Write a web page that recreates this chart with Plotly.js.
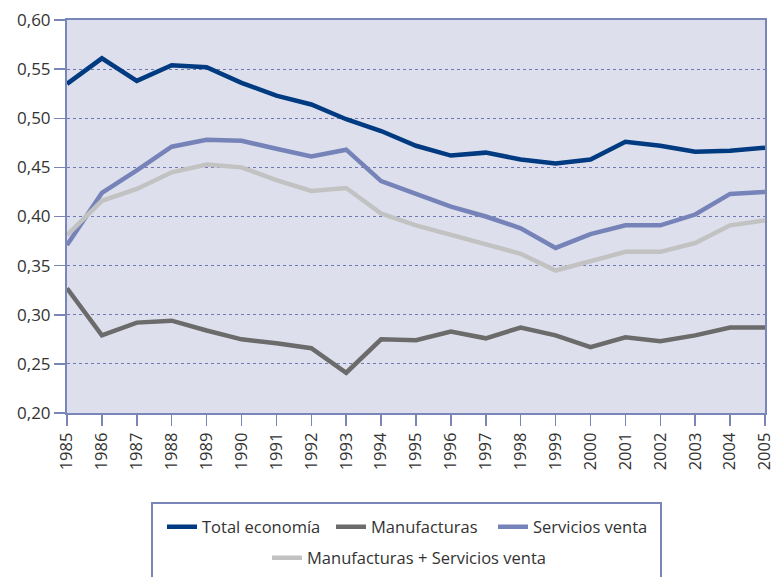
<!DOCTYPE html>
<html>
<head>
<meta charset="utf-8">
<script src="https://cdn.plot.ly/plotly-3.0.1.min.js"></script>
<style>html,body{margin:0;padding:0;background:#fff}#chart{width:774px;height:577px}</style>
</head>
<body>
<div id="chart"></div>
<script>
const years = [1985,1986,1987,1988,1989,1990,1991,1992,1993,1994,1995,1996,1997,1998,1999,2000,2001,2002,2003,2004,2005];
const totalEconomia = [0.535,0.561,0.538,0.554,0.552,0.536,0.523,0.514,0.499,0.487,0.472,0.462,0.465,0.458,0.454,0.458,0.476,0.472,0.466,0.467,0.470];
const manufacturas = [0.327,0.279,0.292,0.294,0.284,0.275,0.271,0.266,0.241,0.275,0.274,0.283,0.276,0.287,0.279,0.267,0.277,0.273,0.279,0.287,0.287];
const serviciosVenta = [0.371,0.424,0.447,0.471,0.478,0.477,0.469,0.461,0.468,0.436,0.423,0.410,0.400,0.388,0.368,0.382,0.391,0.391,0.402,0.423,0.425];
const manufServicios = [0.381,0.416,0.428,0.445,0.453,0.450,0.437,0.426,0.429,0.403,0.391,0.381,0.372,0.362,0.345,0.355,0.364,0.364,0.373,0.391,0.396];
const seriesNames = ["Total economía","Manufacturas","Servicios venta","Manufacturas + Servicios venta"];
const yTicks = [0.20,0.25,0.30,0.35,0.40,0.45,0.50,0.55,0.60];

const colors = ["#003a80","#6b6b6b","#7683b9","#c2c2c2"];
const legendIds = ['legend','legend2','legend3','legend4'];
const dataSets = [totalEconomia, manufacturas, serviciosVenta, manufServicios];
const traces = dataSets.map((d,i)=>({
  x: years, y: d, type:'scatter', mode:'lines', name: seriesNames[i],
  line:{color:colors[i], width:4.5},
  legend: legendIds[i]
}));

const L=67, R=765, T=20, B=413, W=774, H=577;
const pw=R-L, ph=B-T;
const px2x = p => (p-L)/pw;
const py2y = p => (B-p)/ph;

// legend placement (pixel left edge, pixel vertical centre)
const legPos = [[162,527],[331,527],[493,527],[267,558]];
function mkLegend(p){
  return {
    orientation:'h', x:px2x(p[0]), xanchor:'left', y:py2y(p[1]), yanchor:'middle',
    font:{size:16.5, color:'#333333'}, bgcolor:'rgba(0,0,0,0)', borderwidth:0,
    itemwidth:30
  };
}

const layout = {
  width: W, height: H,
  margin:{l:L, r:W-R, t:T, b:H-B, autoexpand:false},
  paper_bgcolor:'#ffffff',
  plot_bgcolor:'#dde0ec',
  separators:',.',
  font:{family:'"Open Sans", sans-serif', color:'#333333', size:16},
  xaxis:{
    range:[1984.9999,2005.0001], tickvals: years, ticktext: years.map(String),
    tickangle:-90, tickfont:{size:16.5, color:'#333333'},
    ticks:'outside', ticklen:11, tickwidth:1.5, tickcolor:'#7b86b8',
    ticklabeloverflow:'allow',
    showline:true, linecolor:'#7b86b8', linewidth:2, mirror:true,
    showgrid:false, zeroline:false, fixedrange:true
  },
  yaxis:{
    range:[0.20,0.60], tickvals: yTicks, tickformat:'.2f',
    tickfont:{size:17, color:'#333333'},
    ticks:'outside', ticklen:11, tickwidth:1.5, tickcolor:'#7b86b8',
    showline:true, linecolor:'#7b86b8', linewidth:2, mirror:true,
    showgrid:true, gridcolor:'#6f78b2', gridwidth:1, griddash:'dot',
    zeroline:false, fixedrange:true
  },
  shapes:[{
    type:'rect', xref:'paper', yref:'paper',
    x0:px2x(152), x1:px2x(661), y0:py2y(503), y1:py2y(600),
    line:{color:'#7b86b8', width:2}, fillcolor:'rgba(0,0,0,0)'
  }],
  showlegend:true,
  legend: mkLegend(legPos[0]),
  legend2: mkLegend(legPos[1]),
  legend3: mkLegend(legPos[2]),
  legend4: mkLegend(legPos[3])
};

Plotly.newPlot('chart', traces, layout, {displayModeBar:false, staticPlot:true});
</script>
</body>
</html>
